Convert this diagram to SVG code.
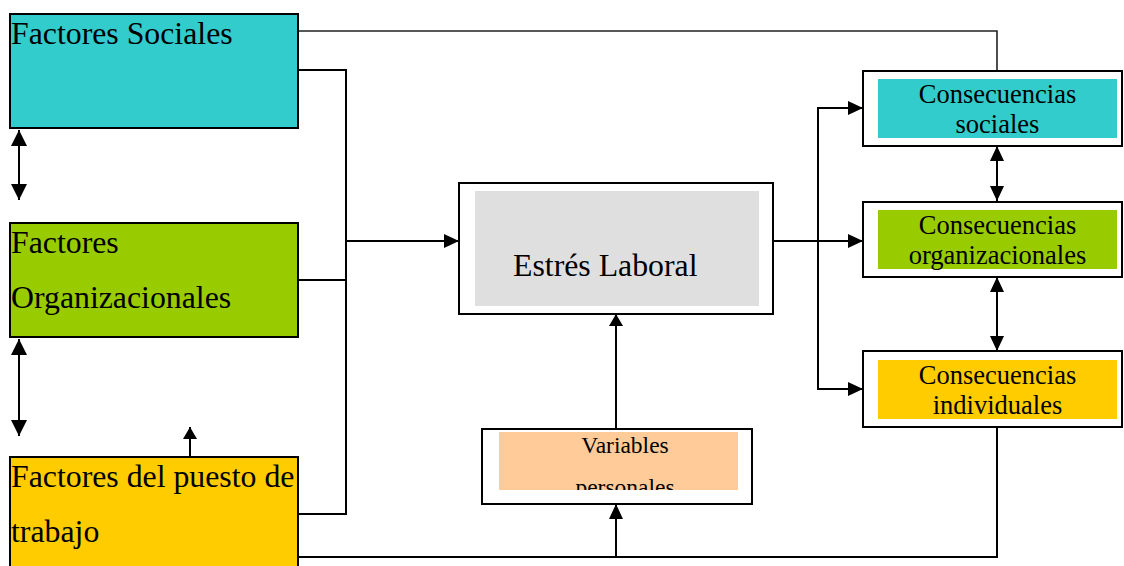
<svg xmlns="http://www.w3.org/2000/svg" width="1124" height="566" viewBox="0 0 1124 566">
<style>
.box{stroke:#000;stroke-width:2}
.outer{fill:#fff;stroke:#000;stroke-width:2}
.t{font-family:"Liberation Serif","Times New Roman",serif;fill:#000}
.big{font-size:31.8px}
.mid{font-size:26.5px}
.sm{font-size:23.5px}
.c{fill:none;stroke:#000;stroke-width:2}
.thin{fill:none;stroke:#222;stroke-width:1.6}
</style>
<defs>
<marker id="arr" markerUnits="userSpaceOnUse" markerWidth="16" markerHeight="14" refX="15" refY="7" orient="auto-start-reverse" viewBox="0 0 16 14">
<path d="M0,0 L15,7 L0,14 z" fill="#000"/>
</marker>
<marker id="arrl" markerUnits="userSpaceOnUse" markerWidth="17" markerHeight="16" refX="16" refY="8" orient="auto-start-reverse" viewBox="0 0 17 16">
<path d="M0,0 L16,8 L0,16 z" fill="#000"/>
</marker>
<marker id="arrs" markerUnits="userSpaceOnUse" markerWidth="13" markerHeight="14" refX="12" refY="7" orient="auto" viewBox="0 0 13 14">
<path d="M0,0 L12,7 L0,14 z" fill="#000"/>
</marker>
<clipPath id="vclip"><rect x="499" y="432" width="239" height="58"/></clipPath>
</defs>

<g id="connectors">
<path class="thin" d="M298,31 H997 V71"/>
<path class="c" d="M298,70 H346 V514 H298"/>
<path class="c" d="M298,280 H346"/>
<path class="c" d="M346,241 H459" marker-end="url(#arr)"/>
<path class="c" d="M19,130 V200" marker-start="url(#arrl)" marker-end="url(#arrl)"/>
<path class="c" d="M19,339 V436" marker-start="url(#arrl)" marker-end="url(#arrl)"/>
<path class="c" d="M190,457 V427" marker-end="url(#arrs)"/>
<path class="c" d="M773,241 H863" marker-end="url(#arr)"/>
<path class="c" d="M863,108 H818 V389 H863" marker-end="url(#arr)"/>
<path class="c" d="M818,108 H863" marker-end="url(#arr)"/>
<path class="c" d="M997,146 V201" marker-start="url(#arr)" marker-end="url(#arr)"/>
<path class="c" d="M997,277 V351" marker-start="url(#arr)" marker-end="url(#arr)"/>
<path class="c" d="M616,429 V314" marker-end="url(#arrs)"/>
<path class="c" d="M298,557 H997 V427"/>
<path class="c" d="M616,557 V504" marker-end="url(#arr)"/>
</g>

<g id="factores-sociales">
<rect class="box" x="10" y="14" width="288" height="114" fill="#33CCCC"/>
<text class="t big" x="11" y="44">Factores Sociales</text>
</g>

<g id="factores-organizacionales">
<rect class="box" x="10" y="223" width="288" height="114" fill="#99CC00"/>
<text class="t big" x="11" y="253">Factores</text>
<text class="t big" x="11" y="308">Organizacionales</text>
</g>

<g id="factores-puesto">
<rect class="box" x="10" y="457" width="288" height="130" fill="#FFCC00"/>
<text class="t big" x="11" y="487">Factores del puesto de</text>
<text class="t big" x="11" y="542">trabajo</text>
</g>

<g id="estres-laboral">
<rect class="outer" x="459" y="183" width="314" height="131"/>
<rect x="475" y="191" width="284" height="115" fill="#DFDFDF"/>
<text class="t big" x="513" y="276">Estrés Laboral</text>
</g>

<g id="variables-personales">
<rect class="outer" x="482" y="429" width="270" height="75"/>
<rect x="499" y="432" width="239" height="58" fill="#FFCC99"/>
<g clip-path="url(#vclip)">
<text class="t sm" x="625" y="453" text-anchor="middle">Variables</text>
<text class="t sm" x="625" y="495" text-anchor="middle">personales</text>
</g>
</g>

<g id="consecuencias-sociales">
<rect class="outer" x="863" y="71" width="259" height="75"/>
<rect x="878" y="79" width="239" height="59" fill="#33CCCC"/>
<text class="t mid" x="997.5" y="103" text-anchor="middle">Consecuencias</text>
<text class="t mid" x="997.5" y="133" text-anchor="middle">sociales</text>
</g>

<g id="consecuencias-organizacionales">
<rect class="outer" x="863" y="202" width="259" height="75"/>
<rect x="878" y="210" width="239" height="59" fill="#99CC00"/>
<text class="t mid" x="997.5" y="234" text-anchor="middle">Consecuencias</text>
<text class="t mid" x="997.5" y="264" text-anchor="middle">organizacionales</text>
</g>

<g id="consecuencias-individuales">
<rect class="outer" x="863" y="351" width="259" height="76"/>
<rect x="878" y="360" width="239" height="59" fill="#FFCC00"/>
<text class="t mid" x="997.5" y="384" text-anchor="middle">Consecuencias</text>
<text class="t mid" x="997.5" y="414" text-anchor="middle">individuales</text>
</g>
</svg>
